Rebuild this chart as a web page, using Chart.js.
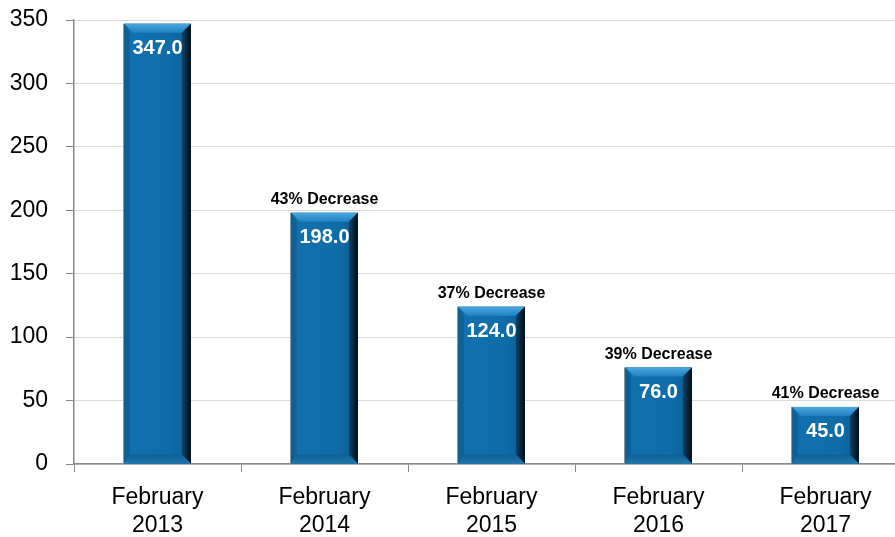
<!DOCTYPE html>
<html>
<head>
<meta charset="utf-8">
<script src="https://cdn.jsdelivr.net/npm/chart.js@4"></script>
<style>
  html, body { margin: 0; padding: 0; overflow: hidden; background: #fff; }
  #wrap { width: 912px; height: 537px; }
</style>
</head>
<body>
<div id="wrap"><canvas id="chart" width="912" height="537"></canvas></div>
<script>
const categories = [['February', '2013'], ['February', '2014'], ['February', '2015'], ['February', '2016'], ['February', '2017']];
const values = [347.0, 198.0, 124.0, 76.0, 45.0];
const changeLabels = ['', '43% Decrease', '37% Decrease', '39% Decrease', '41% Decrease'];
const yTicks = [0, 50, 100, 150, 200, 250, 300, 350];

const FONT = "'Liberation Sans Narrow', 'Arial Narrow', 'Liberation Sans', sans-serif";

// draws the bevelled bar faces on top of the plain bars
const bevelBars = {
  id: 'bevelBars',
  afterDatasetsDraw(chart) {
    const ctx = chart.ctx;
    const meta = chart.getDatasetMeta(0);
    meta.data.forEach((bar, i) => {
      const w = bar.width;
      const l = bar.x - w / 2, r = bar.x + w / 2;
      const t = bar.y, b = bar.base;
      const e = Math.min(9, (b - t) / 3);
      ctx.save();
      // face
      const face = ctx.createLinearGradient(l, 0, r, 0);
      face.addColorStop(0, '#0c5f96');
      face.addColorStop(0.1, '#1171ae');
      face.addColorStop(0.7, '#0f6ca8');
      face.addColorStop(1, '#0c5c90');
      ctx.fillStyle = face;
      ctx.fillRect(l, t, w, b - t);
      // top bevel
      const top = ctx.createLinearGradient(0, t, 0, t + e);
      top.addColorStop(0, '#4aa6dc');
      top.addColorStop(1, '#2183c2');
      ctx.fillStyle = top;
      ctx.beginPath();
      ctx.moveTo(l, t); ctx.lineTo(r, t); ctx.lineTo(r - e, t + e); ctx.lineTo(l + e, t + e); ctx.closePath();
      ctx.fill();
      // right bevel (dark)
      const rs = ctx.createLinearGradient(r - e, 0, r, 0);
      rs.addColorStop(0, '#0c456c');
      rs.addColorStop(1, '#020b12');
      ctx.fillStyle = rs;
      ctx.beginPath();
      ctx.moveTo(r, t); ctx.lineTo(r, b); ctx.lineTo(r - e, b - e); ctx.lineTo(r - e, t + e); ctx.closePath();
      ctx.fill();
      // left bevel
      ctx.fillStyle = '#0d5f94';
      ctx.beginPath();
      ctx.moveTo(l, t); ctx.lineTo(l + e * 0.6, t + e); ctx.lineTo(l + e * 0.6, b - e); ctx.lineTo(l, b); ctx.closePath();
      ctx.fill();
      // bottom bevel
      const bt = ctx.createLinearGradient(0, b - e, 0, b);
      bt.addColorStop(0, '#0f5f93');
      bt.addColorStop(1, '#1f77ad');
      ctx.fillStyle = bt;
      ctx.beginPath();
      ctx.moveTo(l, b); ctx.lineTo(l + e * 0.6, b - e); ctx.lineTo(r - e, b - e); ctx.lineTo(r, b); ctx.closePath();
      ctx.fill();
      // thin grey outline on the left
      ctx.fillStyle = '#7a8a96';
      ctx.fillRect(l - 1, t, 1, b - t);
      // value inside bar
      ctx.fillStyle = '#fff';
      ctx.font = 'bold 20px ' + FONT;
      ctx.textAlign = 'center';
      ctx.textBaseline = 'middle';
      ctx.fillText(values[i].toFixed(1), bar.x, t + 25);
      // change label above bar
      if (changeLabels[i]) {
        ctx.fillStyle = '#000';
        ctx.font = 'bold 16px ' + FONT;
        ctx.textBaseline = 'bottom';
        ctx.fillText(changeLabels[i], bar.x, t - 5);
      }
      ctx.restore();
    });
  }
};

new Chart(document.getElementById('chart'), {
  type: 'bar',
  data: {
    labels: categories,
    datasets: [{
      data: values,
      backgroundColor: '#0f66a0',
      barPercentage: 0.4,
      categoryPercentage: 1.0
    }]
  },
  options: {
    responsive: false,
    animation: false,
    layout: { padding: { top: 20, right: 3, left: 0, bottom: 0 } },
    plugins: {
      legend: { display: false },
      tooltip: { enabled: false },
      title: { display: false }
    },
    scales: {
      y: {
        min: 0,
        max: 350,
        afterBuildTicks: (scale) => { scale.ticks = yTicks.map(v => ({ value: v })); },
        afterFit: (scale) => { scale.width = 74; scale.paddingTop = 0; scale.paddingBottom = 0; },
        ticks: { color: '#000', font: { family: FONT, size: 23 }, padding: 18 },
        grid: { color: '#d9d9d9', lineWidth: 1, tickLength: 8, tickColor: '#888' },
        border: { color: '#888', width: 1.5 }
      },
      x: {
        afterFit: (scale) => { scale.height = 73; },
        ticks: { color: '#000', font: { family: FONT, size: 23, lineHeight: 1.2 }, padding: 12, maxRotation: 0 },
        grid: { offset: true, drawOnChartArea: false, tickLength: 8, color: '#888' },
        border: { color: '#888', width: 1.5 }
      }
    }
  },
  plugins: [bevelBars]
});
</script>
</body>
</html>
